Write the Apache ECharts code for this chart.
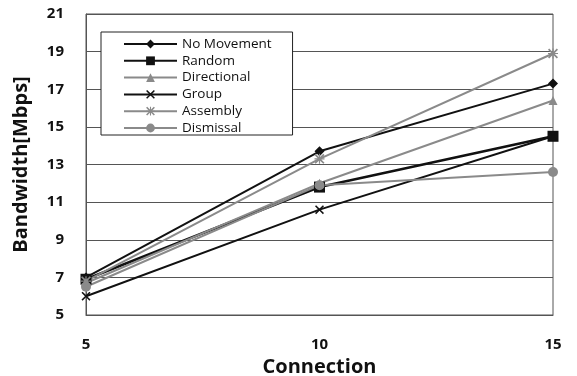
<!DOCTYPE html>
<html>
<head>
<meta charset="utf-8">
<script src="https://cdn.jsdelivr.net/npm/echarts@6/dist/echarts.min.js"></script>
<style>
  html, body { margin: 0; padding: 0; background: #fff; }
  #chart { width: 577px; height: 376px; }
</style>
</head>
<body>
<div id="chart"></div>
<script>
// Number of connections on the x axis
const connections = [5, 10, 15];

// Bandwidth (Mbps) for each mobility model
const noMovement  = [7.0, 13.7, 17.3];
const random      = [6.9, 11.8, 14.5];
const directional = [6.7, 12.0, 16.4];
const group       = [6.0, 10.6, 14.5];
const assembly    = [6.8, 13.3, 18.9];
const dismissal   = [6.5, 11.9, 12.6];

const yTicks = [5, 7, 9, 11, 13, 15, 17, 19, 21];

const FONT = '"Open Sans", "Noto Sans CJK KR", sans-serif';
const BLACK = '#111';
const GRAY = '#8a8a8a';

// Filled cross and asterisk outlines for the marker shapes
const crossPath = 'path://M0,1.2L1.2,0L5,3.8L8.8,0L10,1.2L6.2,5L10,8.8L8.8,10L5,6.2L1.2,10L0,8.8L3.8,5Z';
const starPath = 'path://M0,1.2L1.2,0L4.4,3.2L4.4,0L5.6,0L5.6,3.2L8.8,0L10,1.2L6.8,4.4L10,4.4L10,5.6L6.8,5.6L10,8.8L8.8,10L5.6,6.8L5.6,10L4.4,10L4.4,6.8L1.2,10L0,8.8L3.2,5.6L0,5.6L0,4.4L3.2,4.4Z';

function pairs(values) {
  return connections.map((c, i) => [c, values[i]]);
}

function makeSeries(name, values, color, width, symbol, size) {
  return {
    name: name,
    type: 'line',
    data: pairs(values),
    symbol: symbol,
    symbolSize: size,
    showAllSymbol: true,
    lineStyle: { color: color, width: width },
    itemStyle: { color: color, borderWidth: 0 },
    emphasis: { disabled: true },
    animation: false
  };
}

const chart = echarts.init(document.getElementById('chart'), null, { renderer: 'canvas' });

chart.setOption({
  backgroundColor: '#fff',
  animation: false,
  grid: {
    left: 86, right: 24, top: 14, bottom: 61,
    containLabel: false,
    outerBoundsMode: 'none',
    show: true, borderColor: '#555', borderWidth: 1
  },
  xAxis: {
    type: 'value',
    min: 5,
    max: 15,
    interval: 5,
    name: 'Connection',
    nameLocation: 'middle',
    nameGap: 35,
    nameTextStyle: { fontFamily: FONT, fontWeight: 'bold', fontSize: 20, color: '#111' },
    axisLine: { show: true, lineStyle: { color: '#555', width: 1 } },
    axisTick: { show: false },
    axisLabel: { margin: 22, fontFamily: FONT, fontWeight: 'bold', fontSize: 15, color: '#111' },
    splitLine: { show: false }
  },
  yAxis: {
    type: 'value',
    min: yTicks[0],
    max: yTicks[yTicks.length - 1],
    interval: 2,
    name: 'Bandwidth[Mbps]',
    nameLocation: 'middle',
    nameGap: 55,
    nameTextStyle: { fontFamily: FONT, fontWeight: 'bold', fontSize: 20, color: '#111' },
    axisLine: { show: true, lineStyle: { color: '#555', width: 1 } },
    axisTick: { show: false },
    axisLabel: { margin: 22, fontFamily: FONT, fontWeight: 'bold', fontSize: 15, color: '#111' },
    splitLine: { show: true, lineStyle: { color: '#555', width: 1 } }
  },
  legend: {
    orient: 'vertical',
    left: 101,
    top: 32,
    backgroundColor: '#fff',
    borderColor: '#222',
    borderWidth: 1,
    borderRadius: 0,
    padding: [5, 21, 0, 22],
    itemWidth: 53,
    itemHeight: 11,
    itemGap: 2.8,
    textStyle: { fontFamily: FONT, fontSize: 13.5, color: '#111', lineHeight: 14, padding: [0, 0, 0, 0] },
    z: 10
  },
  series: [
    makeSeries('No Movement', noMovement, BLACK, 2, 'diamond', 10),
    makeSeries('Random', random, BLACK, 2.6, 'rect', 11),
    makeSeries('Directional', directional, GRAY, 2, 'triangle', 9),
    makeSeries('Group', group, BLACK, 2, crossPath, 9),
    makeSeries('Assembly', assembly, GRAY, 2, starPath, 10),
    makeSeries('Dismissal', dismissal, GRAY, 2, 'circle', 10)
  ]
});
</script>
</body>
</html>
